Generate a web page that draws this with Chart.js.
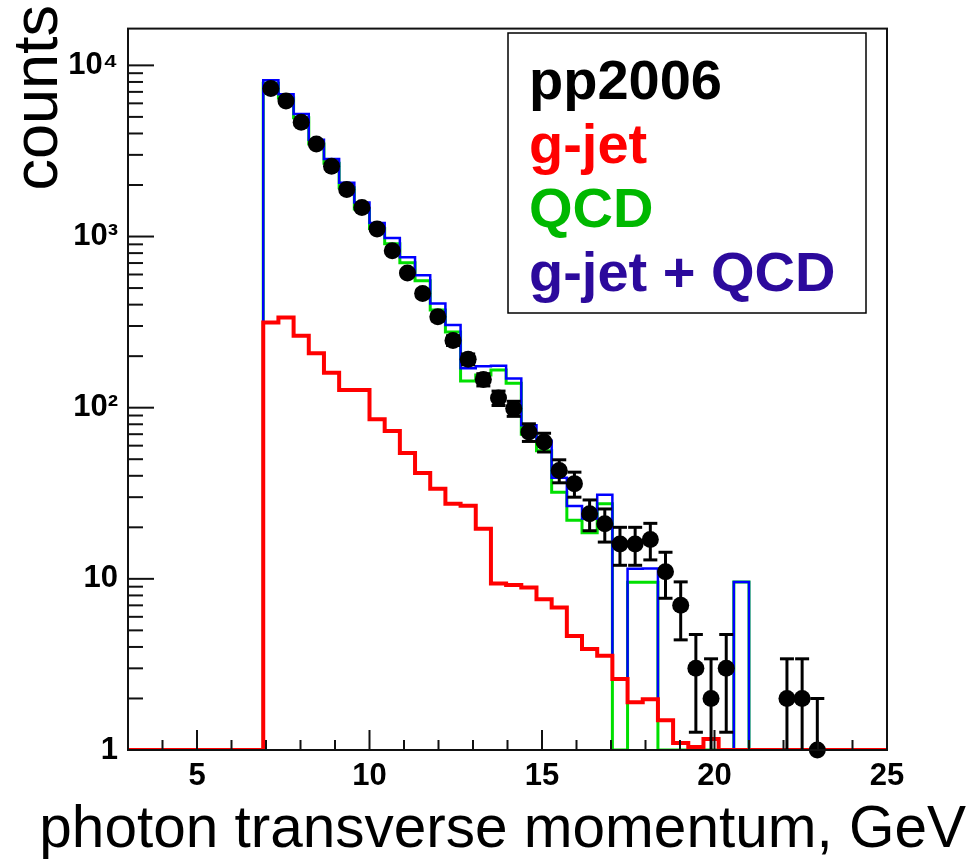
<!DOCTYPE html>
<html><head><meta charset="utf-8">
<script src="https://cdn.jsdelivr.net/npm/chart.js@4.4.1/dist/chart.umd.min.js"></script>
<style>html,body{margin:0;padding:0;background:#fff;} canvas{display:block;}</style>
</head><body>
<canvas id="c" width="972" height="863"></canvas>
<script>
// ---- data ----
const binStart = 6.92;      // GeV, lower edge of first filled bin
const binWidth = 0.44;      // GeV
const xMin = 3, xMax = 25;
const yMin = 1, yMax = 16400;
const xTickValues = [5, 10, 15, 20, 25];
const xTickLabels = ['5', '10', '15', '20', '25'];
const yTickValues = [1, 10, 100, 1000, 10000];
const yTickLabels = ['1', '10', '10\u00B2', '10\u00B3', '10\u2074'];
const seriesNames = ['pp2006', 'g-jet', 'QCD', 'g-jet + QCD'];
const xTitle = 'photon transverse momentum, GeV';
const yTitle = 'counts';

const pp2006 = [7330, 6185, 4655, 3470, 2575, 1884, 1476, 1105, 827, 612,
                465, 340, 247, 192, 146, 114, 99, 72, 63, 43,
                36, 24, 21, 16, 16, 17, 11, 7, 3, 2,
                3, null, null, null, 2, 2, 1, null];
const pp2006Err = [86, 79, 68, 59, 51, 43, 38, 33, 29, 25,
                   22, 18, 16, 14, 12, 11, 10, 8.5, 7.9, 6.6,
                   6, 4.9, 4.6, 4, 4, 4.1, 3.3, 2.6, 1.73, 1.41,
                   1.73, null, null, null, 1.41, 1.41, 1, null];
const gjet = [315, 337, 263, 208, 160, 127, 127, 85.5, 73, 54.3,
              41.6, 33.6, 27.5, 26.7, 19.6, 9.4, 9.2, 8.9, 7.6, 6.8,
              4.64, 3.89, 3.55, 2.6, 1.9, 1.98, 1.49, 1.1, 1.04, 1.16,
              0, 0, 0, 0, 0, 0, 0, 0];
const qcd = [7875, 6450, 4940, 3470, 2680, 1930, 1450, 1113, 907, 703,
             551, 372, 277, 143, 155, 166, 139, 70, 56.1, 32.1,
             22, 18.6, 27.5, 0, 9.55, 9.55, 0, 0, 0, 0,
             0, 9.6, 0, 0, 0, 0, 0, 0];
const gjetPlusQcd = [8190, 6790, 5200, 3675, 2840, 2060, 1578, 1198, 980, 757,
                     593, 406, 304, 170, 174.5, 176, 148, 79, 64, 38.9,
                     26.6, 22.5, 31, 2.6, 11.45, 11.5, 1.49, 1.1, 1.04, 1.16,
                     0, 9.6, 0, 0, 0, 0, 0, 0];

// ---- styles ----
const FONT = "'Liberation Sans', Arial, Helvetica, sans-serif";
const legendColors = ['#000000', '#ff0000', '#00b800', '#2c0a9c'];
const lineColors = { gjet: '#ff0000', qcd: '#00e000', sum: '#0000ff' };

function histPoints(values) {
  const pts = [{ x: xMin, y: yMin }];
  values.forEach((v, i) => pts.push({ x: binStart + i * binWidth, y: v > 0 ? v : yMin }));
  pts.push({ x: binStart + values.length * binWidth, y: yMin });
  pts.push({ x: xMax, y: yMin });
  return pts;
}
const dataPoints = [];
const dataErr = [];
pp2006.forEach((v, i) => {
  if (v != null) { dataPoints.push({ x: binStart + (i + 0.5) * binWidth, y: v }); dataErr.push(pp2006Err[i]); }
});

const errorBarsPlugin = {
  id: 'errorBars',
  afterDatasetsDraw(chart) {
    const { ctx, chartArea } = chart;
    const xs = chart.scales.x, ys = chart.scales.y;
    ctx.save();
    ctx.strokeStyle = '#000'; ctx.lineWidth = 3;
    dataPoints.forEach((p, i) => {
      const e = dataErr[i];
      const px = xs.getPixelForValue(p.x);
      const top = ys.getPixelForValue(p.y + e);
      const lowClamped = (p.y - e) <= yMin;
      const bot = lowClamped ? chartArea.bottom : ys.getPixelForValue(p.y - e);
      ctx.beginPath(); ctx.moveTo(px, top); ctx.lineTo(px, bot); ctx.stroke();
      ctx.beginPath(); ctx.moveTo(px - 7, top); ctx.lineTo(px + 7, top); ctx.stroke();
      if (!lowClamped) { ctx.beginPath(); ctx.moveTo(px - 7, bot); ctx.lineTo(px + 7, bot); ctx.stroke(); }
    });
    ctx.restore();
  }
};

const framePlugin = {
  id: 'frameTicks',
  afterDraw(chart) {
    const { ctx, chartArea: a } = chart;
    const xs = chart.scales.x, ys = chart.scales.y;
    ctx.save();
    ctx.strokeStyle = '#111'; ctx.lineWidth = 2;
    ctx.strokeRect(a.left, a.top, a.right - a.left, a.bottom - a.top);
    // y ticks (inward)
    yTickValues.forEach(d => {
      for (let m = 1; m <= 9; m++) {
        const v = d * m;
        if (v < yMin || v > yMax) continue;
        const py = ys.getPixelForValue(v);
        ctx.beginPath(); ctx.moveTo(a.left, py); ctx.lineTo(a.left + (m === 1 ? 26 : 15), py); ctx.stroke();
      }
    });
    // x ticks (inward)
    for (let t = Math.ceil(xMin); t <= xMax; t++) {
      const px = xs.getPixelForValue(t);
      const major = xTickValues.includes(t);
      ctx.beginPath(); ctx.moveTo(px, a.bottom); ctx.lineTo(px, a.bottom - (major ? 20 : 10)); ctx.stroke();
    }
    // axis titles
    ctx.fillStyle = '#000';
    ctx.font = `58.5px ${FONT}`;
    ctx.textAlign = 'right'; ctx.textBaseline = 'alphabetic';
    ctx.fillText(xTitle, 966, 847);
    ctx.save();
    ctx.translate(57, 5);
    ctx.rotate(-Math.PI / 2);
    ctx.font = `63px ${FONT}`;
    ctx.textAlign = 'right';
    ctx.fillText(yTitle, 0, 0);
    ctx.restore();
    // legend
    ctx.fillStyle = '#fff';
    ctx.fillRect(508, 33, 358, 280);
    ctx.lineWidth = 1.5; ctx.strokeStyle = '#000';
    ctx.strokeRect(508, 33, 358, 280);
    ctx.font = `bold 56px ${FONT}`;
    ctx.textAlign = 'left';
    const baselines = [99, 163, 227, 291];
    seriesNames.forEach((n, i) => {
      ctx.fillStyle = legendColors[i];
      ctx.fillText(n, 529, baselines[i]);
    });
    ctx.restore();
  }
};

new Chart(document.getElementById('c'), {
  type: 'scatter',
  data: {
    datasets: [
      { label: seriesNames[0], data: dataPoints, pointRadius: 8.5, pointHoverRadius: 8.5,
        backgroundColor: '#000', borderColor: '#000', borderWidth: 0, showLine: false, order: 0, clip: false },
      { label: seriesNames[1], type: 'line', data: histPoints(gjet), stepped: 'before',
        borderColor: lineColors.gjet, borderWidth: 4, pointRadius: 0, fill: false, order: 1 },
      { label: seriesNames[3], type: 'line', data: histPoints(gjetPlusQcd), stepped: 'before',
        borderColor: lineColors.sum, borderWidth: 2.5, pointRadius: 0, fill: false, order: 2 },
      { label: seriesNames[2], type: 'line', data: histPoints(qcd), stepped: 'before',
        borderColor: lineColors.qcd, borderWidth: 3, pointRadius: 0, fill: false, order: 3 }
    ]
  },
  options: {
    responsive: false, animation: false, devicePixelRatio: 1,
    layout: { padding: { top: 23, right: 85, left: 0, bottom: 0 } },
    plugins: { legend: { display: false }, tooltip: { enabled: false } },
    scales: {
      x: {
        type: 'linear', min: xMin, max: xMax,
        grid: { display: false, drawTicks: false }, border: { display: false },
        afterBuildTicks: s => { s.ticks = xTickValues.map(v => ({ value: v })); },
        afterFit: s => { s.height = 113; },
        ticks: { padding: 8, color: '#000', font: { family: FONT, size: 31, weight: 'bold' },
                 maxRotation: 0, autoSkip: false,
                 callback: v => xTickLabels[xTickValues.indexOf(v)] }
      },
      y: {
        type: 'logarithmic', min: yMin, max: yMax,
        grid: { display: false, drawTicks: false }, border: { display: false },
        afterBuildTicks: s => { s.ticks = yTickValues.map(v => ({ value: v })); },
        afterFit: s => { s.width = 128; },
        ticks: { padding: 10, color: '#000', font: { family: FONT, size: 31, weight: 'bold' },
                 autoSkip: false,
                 callback: v => yTickLabels[yTickValues.indexOf(v)] }
      }
    }
  },
  plugins: [errorBarsPlugin, framePlugin]
});
</script>
</body></html>
